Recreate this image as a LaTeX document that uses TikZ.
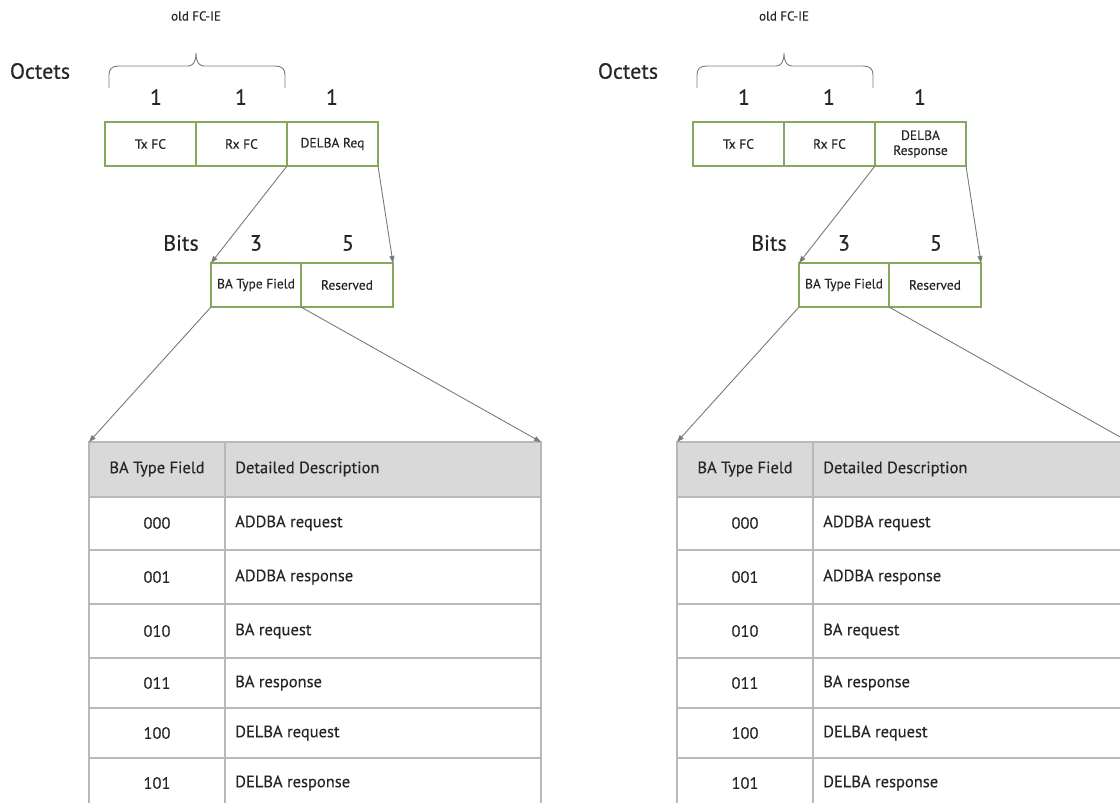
\documentclass[tikz,border=0pt]{standalone}
\usepackage{fontspec}
\setmainfont{PT Sans}[FakeBold=0.35]
\usetikzlibrary{arrows.meta}

\definecolor{boxgreen}{HTML}{84A95C}
\definecolor{linegray}{HTML}{7A7A7A}
\definecolor{gridgray}{HTML}{B8B8B8}
\definecolor{headgray}{HTML}{D9D9D9}
\definecolor{ink}{HTML}{262626}

\tikzset{
  fieldbox/.style={draw=boxgreen, line width=1.3pt, minimum width=91pt, minimum height=44pt,
    inner sep=0pt, outer sep=0pt, anchor=north west, align=center, text=ink,
    font=\fontsize{13.5}{13}\selectfont},
  biglabel/.style={text=ink, inner sep=0pt, font=\fontsize{22}{22}\selectfont},
  note/.style={text=ink, inner sep=0pt, font=\fontsize{13}{13}\selectfont},
  cellnum/.style={text=ink, inner sep=0pt, font=\fontsize{16.5}{16}\selectfont},
  celltext/.style={text=ink, inner sep=0pt, anchor=west, font=\fontsize{16.5}{16}\selectfont},
  headcell/.style={draw=gridgray, fill=headgray, line width=1.2pt, inner sep=0pt, outer sep=0pt,
    anchor=north west, minimum width=452pt, minimum height=55pt},
  gridline/.style={draw=gridgray, line width=1.2pt},
  bracestyle/.style={draw=linegray, line width=0.9pt},
  arrowline/.style={draw=linegray, line width=0.9pt, -{Triangle[length=7pt,width=5pt]}},
}

% One frame layout: the octet fields, the bit split and the BA type table
\newcommand\fieldpanel[3]{%
\begin{scope}[xshift=#2pt]
  \node[note] (#1old) at (196,16) {old FC-IE};
  \draw[bracestyle] (109,88) -- (109,75)
     .. controls (109,69) and (112,66) .. (119,66) -- (188,66)
     .. controls (193,66) and (196,62) .. (196,53)
     .. controls (196,62) and (199,66) .. (204,66) -- (275,66)
     .. controls (282,66) and (285,69) .. (285,75) -- (285,88);
  \node[biglabel] (#1oct) at (40,71) {Octets};
  \node[biglabel] (#1n1) at (156,97) {1};
  \node[biglabel] (#1n2) at (241,97) {1};
  \node[biglabel] (#1n3) at (332,97) {1};
  \node[fieldbox] (#1tx) at (105,122) {Tx FC};
  \node[fieldbox] (#1rx) at (#1tx.north east) {Rx FC};
  \node[fieldbox] (#1delba) at (#1rx.north east) {#3};
  \node[biglabel] (#1bits) at (181,243) {Bits};
  \node[biglabel] (#1b3) at (256,243) {3};
  \node[biglabel] (#1b5) at (348,243) {5};
  \node[fieldbox, minimum width=90pt] (#1ba) at (211,263) {BA Type Field};
  \node[fieldbox, minimum width=92pt] (#1res) at (#1ba.north east) {Reserved};
  % table
  \node[headcell] (#1hdr) at (89,442) {};
  \draw[gridline] (89,442) -- (89,810) (225,442) -- (225,810) (541,442) -- (541,810);
  \foreach \yy in {550,604,658,708,758} \draw[gridline] (89,\yy) -- (541,\yy);
  \node[cellnum] (#1h1) at (157,469) {BA Type Field};
  \node[celltext] (#1h2) at (235,469) {Detailed Description};
  \foreach \code/\desc/\yy [count=\i] in {000/ADDBA request/523, 001/ADDBA response/577,
      010/BA request/631, 011/BA response/683, 100/DELBA request/733, 101/DELBA response/783} {
    \node[cellnum] (#1c\i) at (157,\yy) {\code};
    \node[celltext] (#1d\i) at (235,\yy) {\desc};
  }
  % connectors
  \draw[arrowline] (#1delba.south west) -- (#1ba.north west);
  \draw[arrowline] (#1delba.south east) -- (#1res.north east);
  \draw[arrowline] (#1ba.south west) -- (#1hdr.north west);
  \draw[arrowline] (#1ba.south east) -- (#1hdr.north east);
\end{scope}}

\begin{document}
\begin{tikzpicture}[x=1pt, y=-1pt]
  \useasboundingbox (0,0) rectangle (1120,803);
  \clip (0,0) rectangle (1120,803);
  \fill[white] (0,0) rectangle (1120,803);
  \fieldpanel{L}{0}{DELBA Req}
  \fieldpanel{R}{588}{DELBA\\[2pt]Response}
\end{tikzpicture}
\end{document}
